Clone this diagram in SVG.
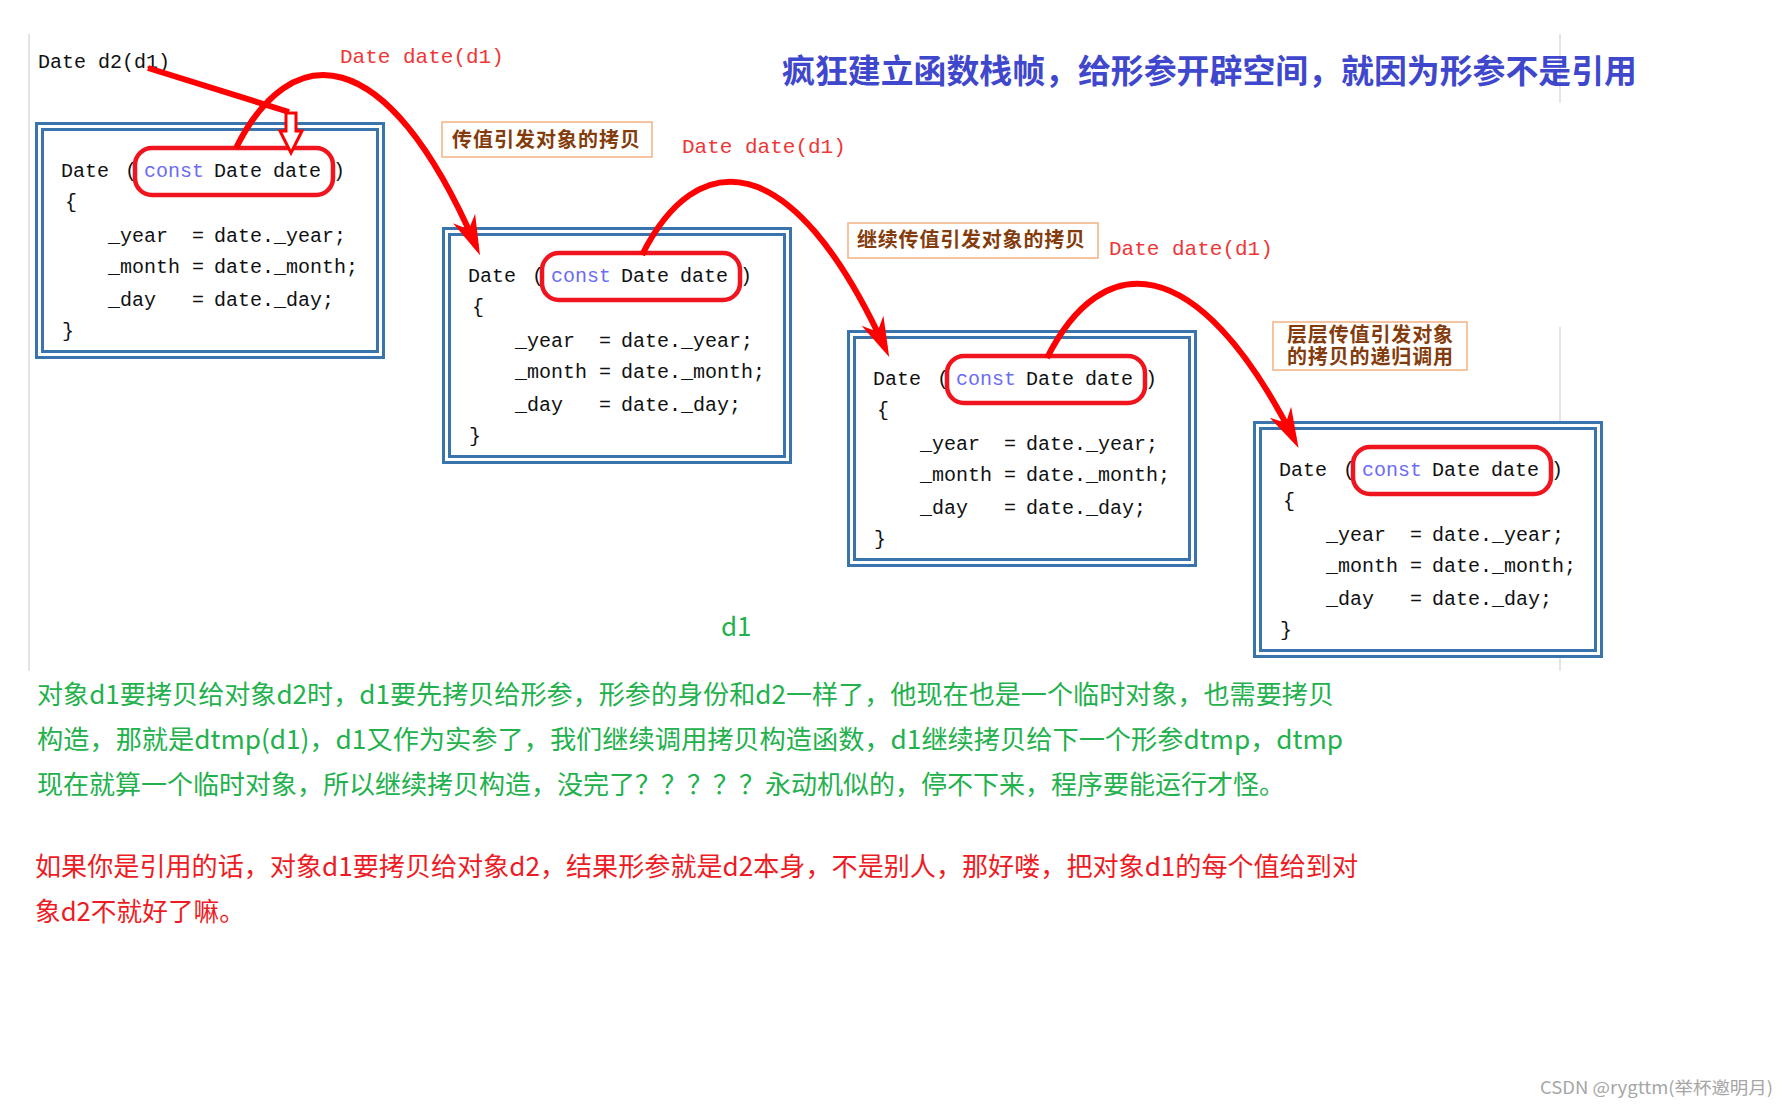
<svg xmlns="http://www.w3.org/2000/svg" width="1789" height="1110" viewBox="0 0 1789 1110">
<style>
.edge{stroke:#e4e4e4;stroke-width:2}
.bo{fill:#fff;stroke:#3a74ad;stroke-width:3}
.bi{fill:none;stroke:#3a74ad;stroke-width:3}
.code{font-family:"Liberation Mono","DejaVu Sans Mono",monospace;font-size:20px;fill:#111}
.kw{fill:#6b6bf5}
.hl{fill:none;stroke:#f0141e;stroke-width:4.5}
.call{font-family:"Liberation Mono","DejaVu Sans Mono",monospace;font-size:21px;fill:#ee3636}
.lab rect{fill:#fff;stroke:#f4b183;stroke-width:1.5}
.lab text{font-family:"Noto Sans CJK SC",sans-serif;font-weight:700;font-size:20px;fill:#843c0c}
.title{font-family:"Noto Sans CJK SC",sans-serif;font-weight:700;font-size:33px;fill:#3f48cc}
.para{font-family:"Noto Sans CJK SC",sans-serif;font-size:26px}
.g{fill:#22b14c}
.r{fill:#ed1c24}
.arrow{fill:none;stroke:#ff0000;stroke-width:6;stroke-linecap:butt}
.wm{font-family:"Noto Sans CJK SC",sans-serif;font-size:17px;fill:#a6a6a6}
</style>
<defs>
<marker id="ah" markerUnits="userSpaceOnUse" orient="auto" refX="0" refY="0" markerWidth="60" markerHeight="40" overflow="visible">
<path d="M10,0 L-30,-12 L-18,0 L-30,12 Z" fill="#ff0000"/>
</marker>
</defs>
<rect width="1789" height="1110" fill="#fff"/>
<line class="edge" x1="29" y1="34" x2="29" y2="671"/>
<line class="edge" x1="1560" y1="34" x2="1560" y2="103"/>
<line class="edge" x1="1560" y1="327" x2="1560" y2="671"/>

<text id="call0" class="code" x="38" y="68" font-size="21">Date d2(d1)</text>
<text id="title" class="title" x="782" y="83" textLength="855" lengthAdjust="spacingAndGlyphs">疯狂建立函数栈帧，给形参开辟空间，就因为形参不是引用</text>

<g id="frame1" transform="translate(35,122)">
<rect class="bo" x="1.5" y="1.5" width="347" height="234"/>
<rect class="bi" x="7.5" y="7.5" width="335" height="222"/>
<text class="code" y="55"><tspan x="26">Date</tspan><tspan x="90">(</tspan><tspan x="109" class="kw">const</tspan><tspan x="179">Date</tspan><tspan x="238">date</tspan><tspan x="298">)</tspan></text>
<text class="code" x="30" y="86">{</text>
<text class="code" y="120"><tspan x="73">_year</tspan><tspan x="157">=</tspan><tspan x="179">date._year;</tspan></text>
<text class="code" y="151"><tspan x="73">_month</tspan><tspan x="157">=</tspan><tspan x="179">date._month;</tspan></text>
<text class="code" y="184"><tspan x="73">_day</tspan><tspan x="157">=</tspan><tspan x="179">date._day;</tspan></text>
<text class="code" x="27" y="215">}</text>
<rect class="hl" x="100" y="26" width="198" height="47" rx="17"/>
</g>

<g id="frame2" transform="translate(442,227)">
<rect class="bo" x="1.5" y="1.5" width="347" height="234"/>
<rect class="bi" x="7.5" y="7.5" width="335" height="222"/>
<text class="code" y="55"><tspan x="26">Date</tspan><tspan x="90">(</tspan><tspan x="109" class="kw">const</tspan><tspan x="179">Date</tspan><tspan x="238">date</tspan><tspan x="298">)</tspan></text>
<text class="code" x="30" y="86">{</text>
<text class="code" y="120"><tspan x="73">_year</tspan><tspan x="157">=</tspan><tspan x="179">date._year;</tspan></text>
<text class="code" y="151"><tspan x="73">_month</tspan><tspan x="157">=</tspan><tspan x="179">date._month;</tspan></text>
<text class="code" y="184"><tspan x="73">_day</tspan><tspan x="157">=</tspan><tspan x="179">date._day;</tspan></text>
<text class="code" x="27" y="215">}</text>
<rect class="hl" x="100" y="26" width="198" height="47" rx="17"/>
</g>

<g id="frame3" transform="translate(847,330)">
<rect class="bo" x="1.5" y="1.5" width="347" height="234"/>
<rect class="bi" x="7.5" y="7.5" width="335" height="222"/>
<text class="code" y="55"><tspan x="26">Date</tspan><tspan x="90">(</tspan><tspan x="109" class="kw">const</tspan><tspan x="179">Date</tspan><tspan x="238">date</tspan><tspan x="298">)</tspan></text>
<text class="code" x="30" y="86">{</text>
<text class="code" y="120"><tspan x="73">_year</tspan><tspan x="157">=</tspan><tspan x="179">date._year;</tspan></text>
<text class="code" y="151"><tspan x="73">_month</tspan><tspan x="157">=</tspan><tspan x="179">date._month;</tspan></text>
<text class="code" y="184"><tspan x="73">_day</tspan><tspan x="157">=</tspan><tspan x="179">date._day;</tspan></text>
<text class="code" x="27" y="215">}</text>
<rect class="hl" x="100" y="26" width="198" height="47" rx="17"/>
</g>

<g id="frame4" transform="translate(1253,421)">
<rect class="bo" x="1.5" y="1.5" width="347" height="234"/>
<rect class="bi" x="7.5" y="7.5" width="335" height="222"/>
<text class="code" y="55"><tspan x="26">Date</tspan><tspan x="90">(</tspan><tspan x="109" class="kw">const</tspan><tspan x="179">Date</tspan><tspan x="238">date</tspan><tspan x="298">)</tspan></text>
<text class="code" x="30" y="86">{</text>
<text class="code" y="120"><tspan x="73">_year</tspan><tspan x="157">=</tspan><tspan x="179">date._year;</tspan></text>
<text class="code" y="151"><tspan x="73">_month</tspan><tspan x="157">=</tspan><tspan x="179">date._month;</tspan></text>
<text class="code" y="184"><tspan x="73">_day</tspan><tspan x="157">=</tspan><tspan x="179">date._day;</tspan></text>
<text class="code" x="27" y="215">}</text>
<rect class="hl" x="100" y="26" width="198" height="47" rx="17"/>
</g>

<g id="call1"><text class="call" x="340" y="63">Date date(d1)</text></g>
<g id="call2"><text class="call" x="682" y="153">Date date(d1)</text></g>
<g id="call3"><text class="call" x="1109" y="255">Date date(d1)</text></g>

<g id="label1" class="lab">
<rect x="442" y="122" width="210" height="35"/>
<text x="452" y="147" textLength="188" lengthAdjust="spacing">传值引发对象的拷贝</text>
</g>
<g id="label2" class="lab">
<rect x="848" y="223" width="250" height="35"/>
<text x="857" y="247" textLength="228" lengthAdjust="spacing">继续传值引发对象的拷贝</text>
</g>
<g id="label3" class="lab">
<rect x="1273" y="322" width="194" height="48"/>
<text font-size="19"><tspan x="1287" y="342" textLength="166" lengthAdjust="spacing">层层传值引发对象</tspan><tspan x="1287" y="364" textLength="166" lengthAdjust="spacing">的拷贝的递归调用</tspan></text>
</g>

<g id="connectors">
<path class="arrow" stroke-width="5" d="M148,68 L289,112"/>
<polygon points="286,113 296,113 296,131 302,131 291,153 280,131 286,131" fill="#fff" stroke="#ff0000" stroke-width="3" stroke-linejoin="miter"/>
<path class="arrow" marker-end="url(#ah)" d="M236,148 C290,40 385,36 476,246"/>
<path class="arrow" marker-end="url(#ah)" d="M642,255 C696,147 791,143 885,348"/>
<path class="arrow" marker-end="url(#ah)" d="M1047,358 C1101,250 1196,246 1294,439"/>
</g>

<text id="d1" class="para g" x="721" y="636">d1</text>

<g id="notes">
<text class="para g" x="37" y="704" textLength="1297" lengthAdjust="spacingAndGlyphs">对象d1要拷贝给对象d2时，d1要先拷贝给形参，形参的身份和d2一样了，他现在也是一个临时对象，也需要拷贝</text>
<text class="para g" x="37" y="749" textLength="1306" lengthAdjust="spacingAndGlyphs">构造，那就是dtmp(d1)，d1又作为实参了，我们继续调用拷贝构造函数，d1继续拷贝给下一个形参dtmp，dtmp</text>
<text class="para g" x="37" y="794" textLength="1248" lengthAdjust="spacingAndGlyphs">现在就算一个临时对象，所以继续拷贝构造，没完了？？？？？永动机似的，停不下来，程序要能运行才怪。</text>
<text class="para r" x="35" y="876" textLength="1323" lengthAdjust="spacingAndGlyphs">如果你是引用的话，对象d1要拷贝给对象d2，结果形参就是d2本身，不是别人，那好喽，把对象d1的每个值给到对</text>
<text class="para r" x="35" y="921" textLength="210" lengthAdjust="spacingAndGlyphs">象d2不就好了嘛。</text>
</g>

<text id="watermark" class="wm" x="1540" y="1094" textLength="233" lengthAdjust="spacingAndGlyphs">CSDN @rygttm(举杯邀明月)</text>
</svg>
